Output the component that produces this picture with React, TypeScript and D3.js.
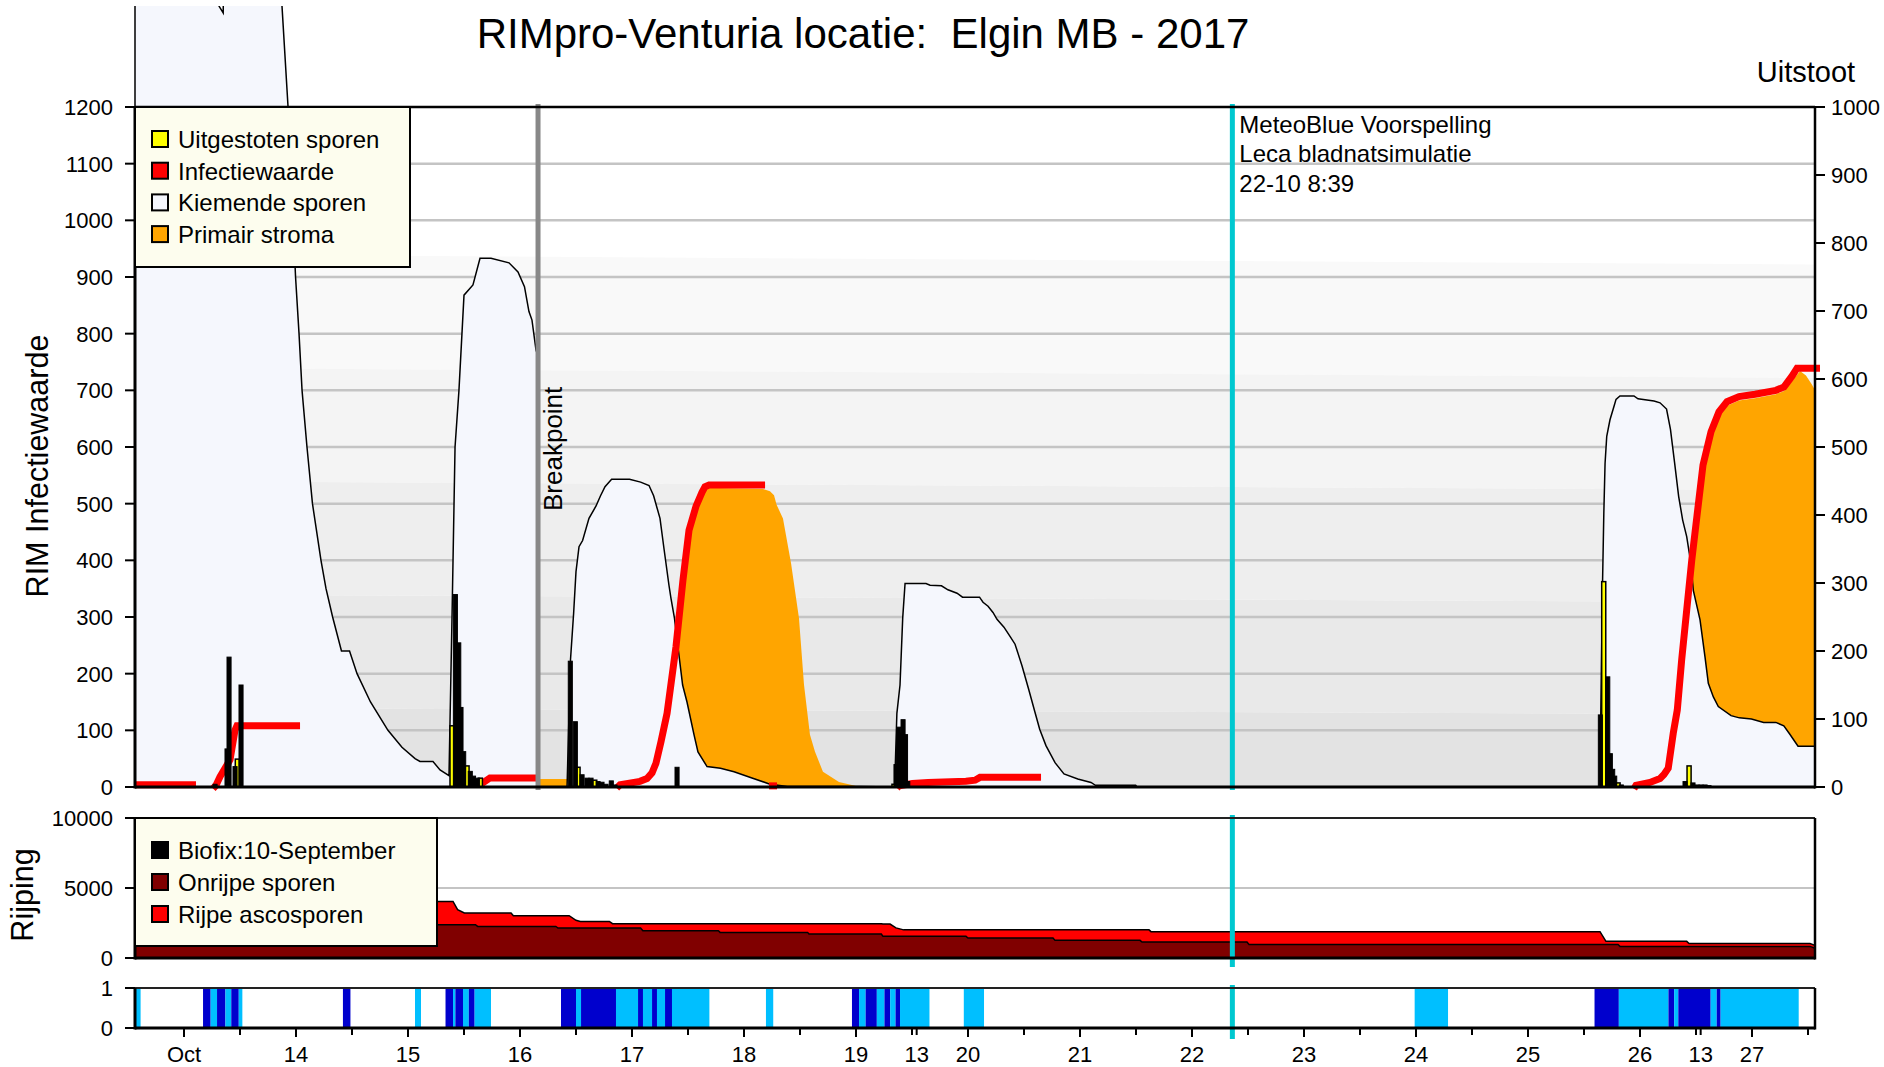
import React from "react";
import * as d3 from "d3";

type P = [number, number];

// time is expressed as decimal day of October 2017 (13.5 = 13 Oct 12:00)

// Kiemende sporen, before the breakpoint (goes off the top on the left)
const kiemendeVoor: P[] = [
  [12.5625, 1500], [13.3, 1500], [13.3125, 1378], [13.35, 1366], [13.357, 1500], [13.857, 1500],
  [13.875, 1378], [13.929, 1200], [13.996, 900], [14.027, 800], [14.054, 700], [14.098, 600],
  [14.147, 500], [14.223, 400], [14.268, 350], [14.327, 300], [14.406, 240], [14.478, 240],
  [14.545, 200], [14.665, 150], [14.821, 100], [14.946, 70], [15.063, 50], [15.107, 45],
  [15.223, 45], [15.286, 30], [15.366, 20], [15.393, 300], [15.42, 600], [15.455, 700],
  [15.5, 868], [15.58, 886], [15.643, 933], [15.741, 933], [15.902, 925], [15.982, 909],
  [16.04, 883], [16.08, 839], [16.107, 824], [16.143, 771], [16.161, 760],
];

// Kiemende sporen, after the breakpoint
const kiemendeNa: P[] = [
  [16.161, 0], [16.42, 0], [16.451, 225], [16.479, 307], [16.5, 380], [16.527, 424], [16.559, 435],
  [16.616, 474], [16.679, 496], [16.719, 514], [16.759, 530], [16.818, 543], [16.978, 543],
  [17.077, 538], [17.152, 532], [17.193, 514], [17.25, 474], [17.286, 420], [17.33, 356],
  [17.348, 333], [17.379, 298], [17.452, 180], [17.491, 150], [17.554, 92], [17.589, 62],
  [17.67, 36], [17.79, 33], [17.911, 27], [18.071, 16], [18.232, 5], [18.388, 1], [19.027, 1],
  [19.345, 0], [19.365, 130], [19.393, 180], [19.417, 298], [19.438, 359], [19.625, 359],
  [19.661, 356], [19.763, 355], [19.821, 348], [19.902, 342], [19.951, 335], [20.103, 335],
  [20.134, 326], [20.179, 319], [20.223, 308], [20.259, 296], [20.321, 282], [20.381, 264],
  [20.42, 252], [20.482, 214], [20.541, 173], [20.598, 132], [20.64, 102], [20.696, 73],
  [20.777, 43], [20.857, 23], [20.98, 14], [21.098, 8], [21.138, 3], [21.497, 3], [21.509, 0],
  [25.641, 0], [25.666, 365], [25.677, 483], [25.688, 571], [25.703, 619], [25.732, 648],
  [25.768, 672], [25.786, 684], [25.821, 690], [25.946, 690], [25.982, 685], [26.125, 681],
  [26.179, 678], [26.237, 667], [26.272, 631], [26.309, 572], [26.345, 513], [26.381, 471],
  [26.417, 442], [26.454, 395], [26.476, 347], [26.536, 295], [26.58, 230], [26.61, 183],
  [26.655, 159], [26.699, 142], [26.813, 126], [26.887, 122], [26.995, 120], [27.104, 114],
  [27.213, 114], [27.284, 108], [27.338, 93], [27.411, 72], [27.5625, 72],
];

// Primair stroma
const stroma1: P[] = [
  [16.161, 14], [16.8, 14], [17.133, 15], [17.213, 40], [17.313, 128], [17.392, 245],
  [17.452, 362], [17.512, 450], [17.571, 492], [17.652, 525], [17.688, 528], [18.17, 526],
  [18.232, 522], [18.268, 515], [18.291, 498], [18.348, 474], [18.42, 395], [18.491, 298],
  [18.536, 180], [18.589, 92], [18.634, 62], [18.705, 27], [18.848, 9], [18.991, 2], [19.018, 0],
];
const stroma2: P[] = [
  [25.964, 0], [26.179, 10], [26.25, 28], [26.295, 88], [26.33, 130], [26.372, 218],
  [26.417, 305], [26.462, 392], [26.509, 472], [26.5625, 560], [26.634, 620], [26.705, 655],
  [26.777, 673], [26.884, 682], [27.027, 686], [27.214, 693], [27.286, 699], [27.357, 716],
  [27.429, 734], [27.482, 726], [27.536, 710], [27.5625, 700],
];

// Infectiewaarde (RIM)
const infectie: P[][] = [
  [[12.5625, 4], [13.107, 4]],
  [[13.259, -3], [13.286, 3], [13.321, 18], [13.411, 48], [13.455, 100], [13.473, 108], [14.036, 108]],
  [[15.658, 6], [15.732, 16], [16.152, 16]],
  [[16.863, -2], [16.893, 4], [17.071, 10], [17.134, 15], [17.179, 25], [17.214, 42], [17.259, 80],
   [17.313, 130], [17.393, 248], [17.455, 365], [17.509, 453], [17.571, 495], [17.625, 520],
   [17.652, 530], [17.688, 533], [18.188, 533]],
  [[18.223, 2], [18.295, 2]],
  [[19.366, -2], [19.384, 2], [19.504, 6], [19.643, 8], [19.982, 10], [20.063, 12], [20.107, 17], [20.652, 17]],
  [[25.946, -3], [25.964, 3], [26.089, 8], [26.179, 15], [26.214, 22], [26.252, 33], [26.297, 95],
   [26.333, 136], [26.372, 224], [26.417, 312], [26.462, 400], [26.509, 479], [26.5625, 568],
   [26.634, 627], [26.705, 662], [26.777, 680], [26.884, 689], [27.027, 693], [27.214, 700],
   [27.286, 706], [27.357, 725], [27.402, 739], [27.607, 739]],
];

// Uitgestoten sporen per hour (right axis, Uitstoot)
const uitstootZwart: P[] = [
  [13.259, 4], [13.366, 56], [13.384, 191], [13.4375, 30], [13.491, 150],
  [15.405, 283], [15.435, 212], [15.455, 117], [15.479, 52], [15.538, 23], [15.567, 16], [15.603, 13],
  [16.431, 185], [16.476, 96], [16.536, 18], [16.58, 13], [16.616, 13], [16.679, 8], [16.714, 7],
  [16.75, 4], [16.797, 9], [16.83, 3], [17.384, 29],
  [19.339, 33], [19.362, 88], [19.384, 79], [19.402, 99], [19.424, 77], [19.444, 8],
  [25.628, 106], [25.694, 162], [25.717, 49], [25.738, 26], [25.756, 16], [25.815, 3],
  [26.384, 8], [26.455, 6], [26.491, 3], [26.527, 3], [26.563, 3], [26.598, 2],
];
const uitstootGeel: P[] = [
  [13.458, 41], [15.375, 90], [15.509, 31], [15.628, 13], [16.5, 29], [16.649, 10],
  [19.321, 4], [25.658, 302], [25.786, 6], [26.42, 31],
];

// Rijping panel
const rijpingDagen = [12.5625, 14.929, 15.107, 15.402, 15.443, 15.503, 15.602, 15.622, 15.92, 15.941,
  16.32, 16.339, 16.439, 16.5, 16.539, 16.798, 16.826, 17.077, 17.097, 17.771, 17.786, 18.568, 18.58,
  19.226, 19.241, 19.304, 19.357, 19.425, 19.982, 20, 20.759, 20.777, 21.536, 21.554, 21.616, 21.634,
  22.491, 22.509, 25.643, 25.696, 25.804, 25.821, 26.417, 26.438, 27.518, 27.5625];
const onrijpeSporen = [900, 900, 2380, 2380, 2380, 2380, 2380, 2257, 2257, 2257, 2257, 2143, 2143, 2143,
  2143, 2143, 2143, 2143, 1950, 1950, 1830, 1830, 1715, 1715, 1545, 1545, 1545, 1545, 1545, 1430, 1430,
  1260, 1260, 1140, 1140, 1140, 1140, 960, 960, 960, 960, 830, 830, 830, 830, 700];
const rijpeAscosporen = [100, 100, 1663, 1663, 1070, 834, 834, 957, 957, 764, 764, 878, 878, 547, 471,
  471, 307, 307, 500, 500, 620, 620, 735, 735, 885, 875, 605, 465, 465, 580, 580, 750, 750, 870, 870,
  740, 740, 920, 920, 228, 228, 358, 358, 200, 200, 200];

// Bladnat panel: [start, end, kind] (1 = nat, 2 = simulatie)
const bladnat: [number, number, number][] = [
  [12.5625, 12.6125, 2], [13.17, 13.238, 1], [13.238, 13.295, 2], [13.295, 13.37, 1], [13.37, 13.422, 2],
  [13.422, 13.489, 1], [13.489, 13.521, 2], [14.419, 14.486, 1], [15.0625, 15.116, 2], [15.335, 15.402, 1],
  [15.402, 15.423, 2], [15.423, 15.491, 1], [15.491, 15.543, 2], [15.543, 15.595, 1], [15.595, 15.741, 2],
  [16.366, 16.5, 1], [16.5, 16.545, 2], [16.545, 16.857, 1], [16.857, 17.054, 2], [17.054, 17.098, 1],
  [17.098, 17.179, 2], [17.179, 17.223, 1], [17.223, 17.295, 2], [17.295, 17.357, 1], [17.357, 17.691, 2],
  [18.196, 18.261, 2], [18.964, 19.027, 1], [19.027, 19.086, 2], [19.086, 19.186, 1], [19.186, 19.254, 2],
  [19.254, 19.305, 1], [19.305, 19.353, 2], [19.353, 19.393, 1], [19.393, 19.656, 2], [19.9625, 20.143, 2],
  [23.988, 24.286, 2], [25.594, 25.811, 1], [25.811, 26.254, 2], [26.254, 26.305, 1], [26.305, 26.342, 2],
  [26.342, 26.631, 1], [26.631, 26.685, 2], [26.685, 26.72, 1], [26.72, 27.417, 2],
];

// background shading levels (left edge, right edge)
const bandLinks = [940, 740, 540, 340, 140, 0];
const bandRechts = [922, 722, 524, 326, 128, 0];
const bandKleuren = ["#f9f9f9", "#f4f4f4", "#eeeeee", "#e9e9e9", "#e3e3e3"];

const dagTicks = [13, 14, 15, 16, 17, 18, 19, 20, 21, 22, 23, 24, 25, 26, 27];
const dagLabels = ["Oct", "14", "15", "16", "17", "18", "19", "20", "21", "22", "23", "24", "25", "26", "27"];
const uurTicks = [19 + 13 / 24, 26 + 13 / 24];
const uurLabels = ["13", "13"];

const breakpoint = 16.161;
const voorspelling = 22 + 8.65 / 24;

const W = 1884;
const H = 1067;
const FONT = "'Liberation Sans', Arial, Helvetica, sans-serif";

const App = () => {
  const x = d3.scaleLinear().domain([12.5625, 27.5625]).range([135, 1815]);
  const yL = d3.scaleLinear().domain([0, 1200]).range([787, 107]);
  const yR = d3.scaleLinear().domain([0, 1000]).range([787, 107]);
  const yRij = d3.scaleLinear().domain([0, 10000]).range([958, 818]);
  const yWet = d3.scaleLinear().domain([0, 1]).range([1028, 988]);
  const [x0, x1] = x.range();

  const area = d3.area<P>().x((d) => x(d[0])).y0(yL(0)).y1((d) => yL(d[1]));
  const line = d3.line<P>().x((d) => x(d[0])).y((d) => yL(d[1]));

  const dom = x.domain();
  const bandArea = d3.area<[number, number, number]>()
    .x((d) => x(d[0])).y0((d) => yL(d[2])).y1((d) => yL(d[1]));

  const rows = rijpingDagen.map((d, i) => ({ dag: d, onrijp: onrijpeSporen[i], rijp: rijpeAscosporen[i] }));
  const stacked = d3.stack<any>().keys(["onrijp", "rijp"])(rows);
  const rijArea = d3.area<any>().x((d) => x(d.data.dag)).y0((d) => yRij(d[0])).y1((d) => yRij(d[1]));
  const rijLine = d3.line<any>().x((d) => x(d.data.dag)).y((d) => yRij(d[1]));

  const barW = x(1 / 24) - x(0) - 0.6;

  const leftTicks = d3.range(0, 1201, 100);
  const rightTicks = d3.range(0, 1001, 100);
  const halfDays = d3.range(13.5, 27.6, 1);

  const legend1 = [
    { label: "Uitgestoten sporen", color: "#ffff00" },
    { label: "Infectiewaarde", color: "#ff0000" },
    { label: "Kiemende sporen", color: "#f5f7fd" },
    { label: "Primair stroma", color: "#ffa500" },
  ];
  const legend2 = [
    { label: "Biofix:10-September", color: "#000000" },
    { label: "Onrijpe sporen", color: "#800000" },
    { label: "Rijpe ascosporen", color: "#ff0000" },
  ];

  const xb = x(breakpoint);
  const xv = x(voorspelling);

  return (
    <div>
      <style>{"body{margin:0}"}</style>
      <svg width={W} height={H} style={{ display: "block", background: "#fff", fontFamily: FONT }}>
        <defs>
          <clipPath id="clipTop">
            <rect x={0} y={6} width={W} height={H - 6} />
          </clipPath>
        </defs>

        {/* background shading */}
        {bandKleuren.map((c, i) => (
          <path key={"band" + i} fill={c}
            d={bandArea([[dom[0], bandLinks[i], bandLinks[i + 1]], [dom[1], bandRechts[i], bandRechts[i + 1]]]) || ""} />
        ))}

        {/* gridlines */}
        {leftTicks.filter((t) => t > 0 && t < 1200).map((t) => (
          <line key={"g" + t} x1={x0} x2={x1} y1={yL(t)} y2={yL(t)} stroke="#c4c4c4" strokeWidth={2.5} />
        ))}

        {/* primair stroma */}
        {[stroma1, stroma2].map((s, i) => (
          <path key={"str" + i} d={area(s) || ""} fill="#ffa500" />
        ))}

        {/* kiemende sporen */}
        <g clipPath="url(#clipTop)">
          {[kiemendeVoor, kiemendeNa].map((s, i) => (
            <path key={"kiem" + i} d={area(s) || ""} fill="#f5f7fd" stroke="#000" strokeWidth={1.5} />
          ))}
        </g>

        {/* infectiewaarde */}
        {infectie.map((s, i) => (
          <path key={"inf" + i} d={line(s) || ""} fill="none" stroke="#ff0000" strokeWidth={7} />
        ))}

        {/* uitgestoten sporen */}
        {uitstootGeel.map((b, i) => (
          <rect key={"gb" + i} x={x(b[0])} width={barW} y={yR(b[1])} height={yR(0) - yR(b[1])}
            fill="#ffff00" stroke="#000" strokeWidth={1.5} />
        ))}
        {uitstootZwart.map((b, i) => (
          <rect key={"zb" + i} x={x(b[0])} width={barW} y={yR(b[1])} height={yR(0) - yR(b[1])}
            fill="#000" stroke="#000" strokeWidth={1} />
        ))}

        {/* breakpoint */}
        <line x1={xb} x2={xb} y1={104} y2={790} stroke="#888" strokeWidth={5} />
        <text transform={`translate(${xb + 24},511) rotate(-90)`} fontSize={26}>Breakpoint</text>

        {/* forecast line */}
        <line x1={xv} x2={xv} y1={104} y2={790} stroke="#00c8d0" strokeWidth={5} />
        <text x={xv + 7} y={133} fontSize={24}>MeteoBlue Voorspelling</text>
        <text x={xv + 7} y={162} fontSize={24}>Leca bladnatsimulatie</text>
        <text x={xv + 7} y={192} fontSize={24}>22-10 8:39</text>

        {/* main axes */}
        <line x1={x0} x2={x1} y1={yL(1200)} y2={yL(1200)} stroke="#000" strokeWidth={2.5} />
        <line x1={x0} x2={x1} y1={yL(0)} y2={yL(0)} stroke="#000" strokeWidth={3} />
        <line x1={x0} x2={x0} y1={yL(1200)} y2={yL(0) + 1.5} stroke="#000" strokeWidth={3} />
        <line x1={x1} x2={x1} y1={yL(1200)} y2={yL(0) + 1.5} stroke="#000" strokeWidth={2.5} />
        {leftTicks.map((t) => (
          <g key={"lt" + t}>
            <line x1={x0 - 10} x2={x0} y1={yL(t)} y2={yL(t)} stroke="#000" strokeWidth={2} />
            <text x={x0 - 22} y={yL(t)} dy="0.36em" textAnchor="end" fontSize={22}>{t}</text>
          </g>
        ))}
        {rightTicks.map((t) => (
          <g key={"rt" + t}>
            <line x1={x1} x2={x1 + 10} y1={yR(t)} y2={yR(t)} stroke="#000" strokeWidth={2} />
            <text x={x1 + 16} y={yR(t)} dy="0.36em" fontSize={22}>{t}</text>
          </g>
        ))}
        <text transform={`translate(48,466) rotate(-90)`} textAnchor="middle" fontSize={30.5}>RIM Infectiewaarde</text>
        <text x={1806} y={82} textAnchor="middle" fontSize={29}>Uitstoot</text>
        <text x={863} y={48} textAnchor="middle" fontSize={42}>RIMpro-Venturia locatie:{"\u00a0\u00a0"}Elgin MB - 2017</text>

        {/* legend 1 */}
        <rect x={x0} y={107} width={275} height={160} fill="#fdfdee" stroke="#000" strokeWidth={2} />
        {legend1.map((l, i) => (
          <g key={"l1" + i}>
            <rect x={152} y={131 + i * 31.7} width={16} height={16} fill={l.color} stroke="#000" strokeWidth={2} />
            <text x={178} y={148 + i * 31.7} fontSize={24}>{l.label}</text>
          </g>
        ))}

        {/* rijping panel */}
        <line x1={x0} x2={x1} y1={yRij(5000)} y2={yRij(5000)} stroke="#c4c4c4" strokeWidth={2} />
        {stacked.map((s, i) => (
          <path key={"rij" + i} d={rijArea(s as any) || ""} fill={i === 0 ? "#800000" : "#ff0000"} />
        ))}
        {stacked.map((s, i) => (
          <path key={"rijl" + i} d={rijLine(s as any) || ""} fill="none" stroke="#000" strokeWidth={1.5} />
        ))}
        <line x1={xv} x2={xv} y1={815} y2={967} stroke="#00c8d0" strokeWidth={5} />
        <line x1={x0} x2={x1} y1={yRij(10000)} y2={yRij(10000)} stroke="#222" strokeWidth={2} />
        <line x1={x0} x2={x1} y1={yRij(0)} y2={yRij(0)} stroke="#000" strokeWidth={3} />
        <line x1={x0} x2={x0} y1={yRij(10000)} y2={yRij(0) + 1.5} stroke="#000" strokeWidth={3} />
        <line x1={x1} x2={x1} y1={yRij(10000)} y2={yRij(0) + 1.5} stroke="#000" strokeWidth={2.5} />
        {[0, 5000, 10000].map((t) => (
          <g key={"rij" + t}>
            <line x1={x0 - 10} x2={x0} y1={yRij(t)} y2={yRij(t)} stroke="#000" strokeWidth={2} />
            <text x={x0 - 22} y={yRij(t)} dy="0.36em" textAnchor="end" fontSize={22}>{t}</text>
          </g>
        ))}
        <text transform={`translate(33,895) rotate(-90)`} textAnchor="middle" fontSize={30.5}>Rijping</text>

        {/* legend 2 */}
        <rect x={x0} y={818} width={302} height={128} fill="#fdfdee" stroke="#000" strokeWidth={2} />
        {legend2.map((l, i) => (
          <g key={"l2" + i}>
            <rect x={152} y={842 + i * 32} width={16} height={16} fill={l.color} stroke="#000" strokeWidth={2} />
            <text x={178} y={859 + i * 32} fontSize={24}>{l.label}</text>
          </g>
        ))}

        {/* bladnat panel */}
        {bladnat.map((b, i) => (
          <rect key={"wet" + i} x={x(b[0])} width={x(b[1]) - x(b[0])} y={yWet(1)} height={yWet(0) - yWet(1)}
            fill={b[2] === 1 ? "#0000cd" : "#00bfff"} />
        ))}
        <line x1={xv} x2={xv} y1={985} y2={1039} stroke="#00c8d0" strokeWidth={5} />
        <line x1={x0} x2={x1} y1={yWet(1)} y2={yWet(1)} stroke="#222" strokeWidth={2} />
        <line x1={x0} x2={x1} y1={yWet(0)} y2={yWet(0)} stroke="#000" strokeWidth={3} />
        <line x1={x0} x2={x0} y1={yWet(1)} y2={yWet(0) + 1.5} stroke="#000" strokeWidth={3} />
        <line x1={x1} x2={x1} y1={yWet(1)} y2={yWet(0) + 1.5} stroke="#000" strokeWidth={2.5} />
        {[0, 1].map((t) => (
          <g key={"wt" + t}>
            <line x1={x0 - 10} x2={x0} y1={yWet(t)} y2={yWet(t)} stroke="#000" strokeWidth={2} />
            <text x={x0 - 22} y={yWet(t)} dy="0.36em" textAnchor="end" fontSize={22}>{t}</text>
          </g>
        ))}

        {/* time axis */}
        {dagTicks.map((d, i) => (
          <g key={"dt" + d}>
            <line x1={x(d)} x2={x(d)} y1={yWet(0)} y2={yWet(0) + 9} stroke="#000" strokeWidth={2} />
            <text x={x(d)} y={1062} textAnchor="middle" fontSize={22}>{dagLabels[i]}</text>
          </g>
        ))}
        {halfDays.map((d) => (
          <line key={"hd" + d} x1={x(d)} x2={x(d)} y1={yWet(0)} y2={yWet(0) + 7} stroke="#000" strokeWidth={2} />
        ))}
        {uurTicks.map((d, i) => (
          <g key={"ut" + i}>
            <line x1={x(d)} x2={x(d)} y1={yWet(0)} y2={yWet(0) + 7} stroke="#000" strokeWidth={2} />
            <text x={x(d)} y={1062} textAnchor="middle" fontSize={22}>{uurLabels[i]}</text>
          </g>
        ))}
      </svg>
    </div>
  );
};

export default App;
